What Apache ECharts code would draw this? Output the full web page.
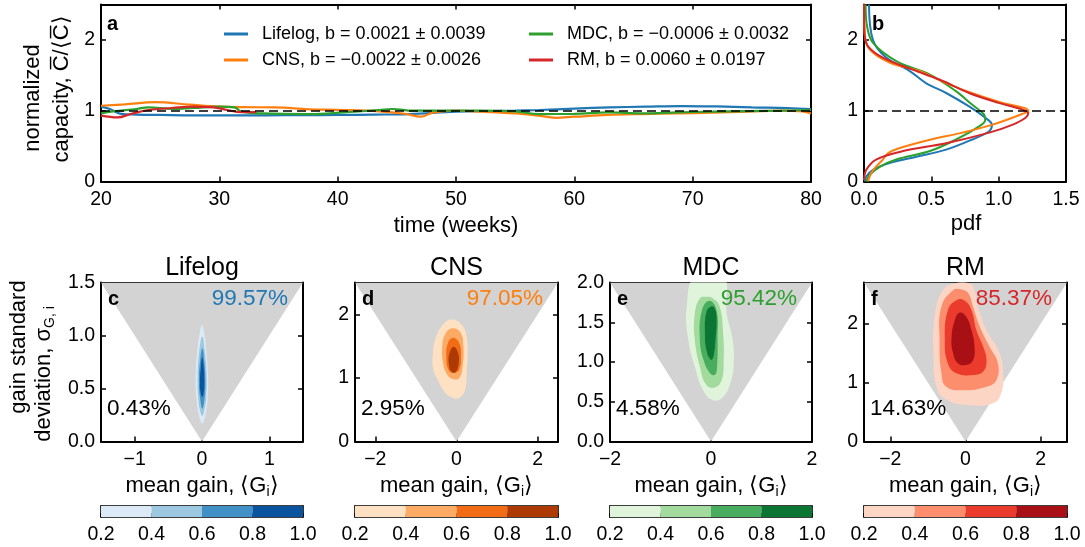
<!DOCTYPE html>
<html><head><meta charset="utf-8">
<script src="https://cdn.jsdelivr.net/npm/echarts@6/dist/echarts.min.js"></script>
<style>html,body{margin:0;padding:0;background:#fff}#c{width:1085px;height:547px}</style>
</head><body><div id="c"></div>
<script>
// ---------------- data ----------------
const seriesNames = ['Lifelog', 'CNS', 'MDC', 'RM'];
const legendNames = ['Lifelog, b = 0.0021 ± 0.0039', 'CNS, b = \u22120.0022 ± 0.0026', 'MDC, b = \u22120.0006 ± 0.0032', 'RM, b = 0.0060 ± 0.0197'];
const seriesColors = ['#1f77b4', '#ff7f0e', '#2ca02c', '#d62728'];

// panel a: normalized capacity vs time (weeks)
const lifelogWeeks = [20, 20.8, 21.7, 23, 25, 28, 31, 34, 37, 40, 43, 46, 50, 53, 55, 57, 60, 63, 66, 69, 72, 75, 78, 80];
const lifelogCap = [1.057, 1.02, 0.955, 0.945, 0.94, 0.935, 0.935, 0.935, 0.938, 0.94, 0.945, 0.953, 0.985, 0.995, 1.0, 1.01, 1.03, 1.047, 1.057, 1.066, 1.06, 1.047, 1.038, 1.024];
const cnsWeeks = [20, 22, 24.6, 27.5, 30, 32, 34.7, 37.6, 40.5, 43.5, 45.8, 47, 48.1, 50, 52.2, 55, 57, 58.4, 60, 62.8, 65.8, 68.7, 71.7, 74.6, 77.5, 79.3, 80];
const cnsCap = [1.07, 1.09, 1.12, 1.085, 1.057, 1.05, 1.047, 1.02, 1.01, 0.99, 0.953, 0.915, 0.976, 1.0, 0.986, 0.962, 0.93, 0.9, 0.915, 0.94, 0.953, 0.962, 0.972, 0.986, 1.0, 0.99, 0.96];
const mdcWeeks = [20, 21, 23, 24, 26, 27.8, 30, 31.3, 31.8, 33.6, 37.6, 40.5, 43.5, 44.6, 46.4, 49.3, 52, 55, 57, 60, 62.8, 65.8, 68.7, 71.7, 74.6, 77.5, 80];
const mdcCap = [0.96, 0.99, 1.024, 1.047, 1.024, 1.038, 1.057, 1.047, 0.99, 0.962, 0.953, 0.976, 1.01, 1.024, 1.0, 1.0, 1.0, 0.99, 0.953, 0.955, 0.976, 0.962, 0.976, 0.986, 0.995, 1.0, 1.01];
const rmWeeks = [20, 21.4, 22.5, 24, 26, 27.8, 29.5, 30.7, 31.8, 33.1];
const rmCap = [0.93, 0.905, 0.953, 1.01, 1.038, 1.057, 1.047, 1.01, 0.98, 0.98];

// panel b: pdf of normalized capacity
const lifelogPdfCap = [2.5, 2.0, 1.75, 1.56, 1.39, 1.25, 1.06, 0.9, 0.8, 0.71, 0.59, 0.45, 0.35, 0.26, 0.165, 0.07, 0];
const lifelogPdf = [0.037, 0.066, 0.165, 0.34, 0.46, 0.61, 0.78, 0.9, 0.95, 0.93, 0.8, 0.61, 0.39, 0.19, 0.066, 0.017, 0.005];
const cnsPdfCap = [2.5, 2.1, 1.87, 1.68, 1.56, 1.39, 1.25, 1.11, 1.04, 1.0, 0.95, 0.8, 0.69, 0.59, 0.47, 0.4, 0.31, 0.21, 0.12, 0];
const cnsPdf = [0, 0.005, 0.04, 0.19, 0.41, 0.61, 0.8, 1.03, 1.19, 1.22, 1.17, 0.95, 0.73, 0.49, 0.26, 0.18, 0.14, 0.09, 0.054, 0.03];
const mdcPdfCap = [2.5, 2.2, 1.96, 1.7, 1.51, 1.28, 1.09, 0.95, 0.87, 0.76, 0.59, 0.43, 0.31, 0.21, 0.09, 0];
const mdcPdf = [0.012, 0.022, 0.066, 0.24, 0.49, 0.68, 0.8, 0.89, 0.9, 0.84, 0.68, 0.49, 0.24, 0.12, 0.04, 0.017];
const rmPdfCap = [2.5, 2.06, 1.91, 1.75, 1.58, 1.44, 1.25, 1.11, 1.02, 0.97, 0.9, 0.8, 0.69, 0.54, 0.43, 0.31, 0.165, 0.02];
const rmPdf = [0, 0.005, 0.03, 0.14, 0.36, 0.56, 0.78, 1.0, 1.17, 1.22, 1.2, 1.1, 0.93, 0.61, 0.29, 0.09, 0.017, 0];

// panels c-f: allowed region (triangle) and density contours (levels 0.2, 0.4, 0.6, 0.8)
const triLifelog = [[-1.5, 1.5], [1.5, 1.5], [0, 0]];
const triCns = [[-2.5, 2.5], [2.5, 2.5], [0, 0]];
const triMdc = [[-2, 2], [2, 2], [0, 0]];
const triRm = [[-2.7, 2.7], [2.7, 2.7], [0, 0]];

const lifelogContours = [
  [[0,1.1],[0.035,1.02],[0.065,0.85],[0.09,0.62],[0.085,0.42],[0.055,0.26],[0.005,0.17],[-0.05,0.26],[-0.085,0.42],[-0.095,0.62],[-0.07,0.85],[-0.035,1.02]],
  [[0.005,0.99],[0.04,0.86],[0.07,0.62],[0.06,0.40],[0.03,0.28],[0.005,0.24],[-0.025,0.28],[-0.055,0.40],[-0.065,0.62],[-0.04,0.86]],
  [[0.005,0.88],[0.035,0.75],[0.05,0.58],[0.04,0.42],[0.005,0.31],[-0.03,0.42],[-0.045,0.58],[-0.03,0.75]],
  [[0.005,0.79],[0.028,0.68],[0.035,0.56],[0.025,0.46],[0.005,0.42],[-0.02,0.46],[-0.03,0.56],[-0.02,0.68]]
];
const cnsContours = [
  [[-0.125,1.92],[0.125,1.84],[0.25,1.65],[0.275,1.39],[0.25,1.08],[0.21,0.81],[0.04,0.68],[-0.17,0.71],[-0.33,0.81],[-0.46,0.97],[-0.57,1.13],[-0.58,1.39],[-0.5,1.65],[-0.33,1.84]],
  [[-0.1,1.78],[0.1,1.71],[0.17,1.5],[0.15,1.18],[0.07,1.0],[-0.08,0.98],[-0.23,1.05],[-0.33,1.23],[-0.35,1.5],[-0.27,1.7]],
  [[-0.085,1.63],[0.065,1.55],[0.11,1.34],[0.065,1.13],[-0.07,1.08],[-0.2,1.13],[-0.25,1.34],[-0.21,1.55]],
  [[-0.07,1.49],[0.04,1.39],[0.05,1.21],[-0.025,1.09],[-0.13,1.1],[-0.19,1.23],[-0.17,1.39]]
];
const mdcContours = [
  [[-0.3,2.1],[-0.48,1.7],[-0.45,1.28],[-0.32,0.94],[-0.16,0.65],[0.04,0.52],[0.24,0.56],[0.40,0.77],[0.45,0.98],[0.43,1.28],[0.31,1.61],[0.24,2.1]],
  [[-0.09,1.82],[0.04,1.80],[0.17,1.70],[0.24,1.36],[0.25,0.98],[0.21,0.77],[0.08,0.68],[-0.09,0.71],[-0.22,0.94],[-0.32,1.28],[-0.32,1.61],[-0.22,1.80]],
  [[-0.03,1.77],[0.11,1.65],[0.13,1.28],[0.12,0.94],[0.08,0.84],[-0.02,0.86],[-0.15,1.03],[-0.22,1.28],[-0.18,1.65]],
  [[0.01,1.70],[0.07,1.68],[0.11,1.57],[0.09,1.28],[0.04,1.05],[-0.01,1.03],[-0.09,1.15],[-0.12,1.36],[-0.09,1.63]]
];
const rmContours = [
  [[-0.24,2.69],[0.02,2.70],[0.2,2.63],[0.33,2.29],[0.56,1.89],[0.91,1.5],[1.0,1.16],[0.95,0.82],[0.73,0.65],[0.11,0.62],[-0.51,0.71],[-0.77,0.93],[-0.85,1.44],[-0.82,2.12],[-0.6,2.57]],
  [[-0.33,2.57],[-0.11,2.58],[0.07,2.52],[0.2,2.29],[0.38,1.95],[0.64,1.61],[0.86,1.33],[0.82,1.04],[0.56,0.93],[-0.07,0.87],[-0.51,0.93],[-0.64,1.16],[-0.69,1.72],[-0.64,2.29]],
  [[-0.24,2.40],[-0.02,2.39],[0.16,2.23],[0.29,1.89],[0.47,1.61],[0.56,1.38],[0.47,1.19],[0.2,1.13],[-0.24,1.16],[-0.47,1.33],[-0.55,1.72],[-0.47,2.23]],
  [[-0.15,2.19],[0.02,2.12],[0.16,1.89],[0.24,1.61],[0.2,1.38],[0.02,1.30],[-0.2,1.33],[-0.33,1.50],[-0.37,1.78],[-0.27,2.09]]
];
const levelColors = [
  ['#dce9f6', '#9dc9e0', '#4191c6', '#0a539e'],
  ['#fee0c3', '#fdaa65', '#f26b15', '#ad3903'],
  ['#e0f3db', '#a3da9d', '#48ad5e', '#0b7634'],
  ['#fdd5c4', '#fc8e6e', '#eb3b2c', '#a91016']
];
const colorbarLevels = [0.2, 0.4, 0.6, 0.8, 1.0];
const insidePct = ['99.57%', '97.05%', '95.42%', '85.37%'];
const outsidePct = ['0.43%', '2.95%', '4.58%', '14.63%'];

// ticks
const weekTicks = [20, 30, 40, 50, 60, 70, 80];
const capTicks = [0, 1, 2];
const pdfTicks = [0, 0.5, 1.0, 1.5];
const lowerX = [[-1, 0, 1], [-2, 0, 2], [-2, 0, 2], [-2, 0, 2]];
const lowerY = [[0, 0.5, 1.0, 1.5], [0, 1, 2], [0, 0.5, 1.0, 1.5, 2.0], [0, 1, 2]];
const lowerXRange = [[-1.5, 1.5], [-2.5, 2.5], [-2, 2], [-2.7, 2.7]];
const lowerYMax = [1.5, 2.5, 2.0, 2.7];
const lowerYfmt = [1, 0, 1, 0];

// ---------------- layout / options ----------------
const FONT = '"Liberation Sans", Arial, Helvetica, sans-serif';
const TICK_FS = 19.5;
const minus = v => (v < 0 ? '\u2212' + Math.abs(v) : String(v));
const fix = d => v => (v < 0 ? '\u2212' : '') + Math.abs(v).toFixed(d);

const grids = [
  { left: 101, top: 4.5, width: 710, height: 177 },
  { left: 864, top: 4.5, width: 202, height: 177 },
  { left: 101, top: 282.5, width: 202, height: 159 },
  { left: 355, top: 282.5, width: 203, height: 159 },
  { left: 610, top: 282.5, width: 202, height: 159 },
  { left: 864, top: 282.5, width: 203, height: 159 }
];
const cbTop = 506, cbH = 11;
for (let i = 0; i < 4; i++) grids.push({ left: grids[2 + i].left, top: cbTop, width: grids[2 + i].width, height: cbH });

const xAxis = [], yAxis = [];
const axisLine = { show: true, onZero: false, lineStyle: { color: '#000', width: 2 } };
function addPanelAxes(gi, xmin, xmax, xticks, xfmt, ymin, ymax, yticks, yfmt) {
  const tick = (vals) => ({ show: true, inside: true, length: 5, customValues: vals, lineStyle: { color: '#000', width: 1.5 } });
  const xi = xAxis.length;
  xAxis.push({ gridIndex: gi, type: 'value', min: xmin, max: xmax, position: 'bottom', axisLine, axisTick: tick(xticks),
    axisLabel: { customValues: xticks, formatter: xfmt, color: '#000', fontSize: TICK_FS, fontFamily: FONT, margin: 8 }, splitLine: { show: false } });
  xAxis.push({ gridIndex: gi, type: 'value', min: xmin, max: xmax, position: 'top', axisLine, axisTick: tick(xticks),
    axisLabel: { show: false }, splitLine: { show: false } });
  const yi = yAxis.length;
  yAxis.push({ gridIndex: gi, type: 'value', min: ymin, max: ymax, position: 'left', axisLine, axisTick: tick(yticks),
    axisLabel: { customValues: yticks, formatter: yfmt, color: '#000', fontSize: TICK_FS, fontFamily: FONT, margin: 6 }, splitLine: { show: false } });
  yAxis.push({ gridIndex: gi, type: 'value', min: ymin, max: ymax, position: 'right', axisLine, axisTick: tick(yticks),
    axisLabel: { show: false }, splitLine: { show: false } });
  return [xi, yi];
}

const series = [];
// panel a
const [ax, ay] = addPanelAxes(0, 20, 80, weekTicks, minus, 0, 2.5, capTicks, minus);
const timeData = [[lifelogWeeks, lifelogCap], [cnsWeeks, cnsCap], [mdcWeeks, mdcCap], [rmWeeks, rmCap]];
const dashLine = { symbol: 'none', silent: true, label: { show: false }, lineStyle: { color: '#000', type: [9, 5], width: 1.6 }, data: [{ yAxis: 1 }] };
timeData.forEach((d, i) => {
  const s = { type: 'line', name: legendNames[i], xAxisIndex: ax, yAxisIndex: ay, data: d[0].map((w, k) => [w, d[1][k]]),
    showSymbol: false, symbol: 'none', smooth: 0.4, lineStyle: { color: seriesColors[i], width: 2.2 }, itemStyle: { color: seriesColors[i] }, z: 2 + i * 0.1 };
  if (i === 3) s.markLine = dashLine;
  series.push(s);
});
// panel b
const [bx, by] = addPanelAxes(1, 0, 1.5, pdfTicks, fix(1), 0, 2.5, capTicks, minus);
const pdfData = [[lifelogPdf, lifelogPdfCap], [cnsPdf, cnsPdfCap], [mdcPdf, mdcPdfCap], [rmPdf, rmPdfCap]];
[0, 2, 1, 3].forEach((i, k) => {
  const d = pdfData[i];
  const s = { type: 'line', name: seriesNames[i] + ' pdf', xAxisIndex: bx, yAxisIndex: by, data: d[0].map((p, j) => [p, d[1][j]]),
    showSymbol: false, symbol: 'none', smooth: 0.35, lineStyle: { color: seriesColors[i], width: 2 }, z: 2 + k * 0.1 };
  if (k === 3) s.markLine = dashLine;
  series.push(s);
});

function polygonSeries(xi, yi, polys, fills, z, smooth) {
  return {
    type: 'custom', xAxisIndex: xi, yAxisIndex: yi, z: z, silent: true,
    data: polys.map((p, i) => [p[0][0], p[0][1], i]),
    encode: { x: 0, y: 1 },
    renderItem: (params, api) => {
      const poly = polys[params.dataIndex];
      const cs = params.coordSys;
      return { type: 'group', clipPath: { type: 'rect', shape: { x: cs.x, y: cs.y, width: cs.width, height: cs.height } },
        children: [{ type: 'polygon', shape: { points: poly.map(pt => api.coord(pt)), smooth: smooth }, style: { fill: fills[params.dataIndex], stroke: null } }] };
    }
  };
}
const triangles = [triLifelog, triCns, triMdc, triRm];
const contours = [lifelogContours, cnsContours, mdcContours, rmContours];
for (let i = 0; i < 4; i++) {
  const yf = lowerYfmt[i] ? fix(1) : minus;
  const [xi, yi] = addPanelAxes(2 + i, lowerXRange[i][0], lowerXRange[i][1], lowerX[i], minus, 0, lowerYMax[i], lowerY[i], yf);
  series.push(polygonSeries(xi, yi, [triangles[i]], ['#d3d3d3'], 1, 0));
  series.push(polygonSeries(xi, yi, contours[i], levelColors[i], 2, 0.45));
}
// colorbars
for (let i = 0; i < 4; i++) {
  const xi = xAxis.length;
  xAxis.push({ gridIndex: 6 + i, type: 'value', min: 0.2, max: 1.0, position: 'bottom', axisLine: { show: true, onZero: false, lineStyle: { color: '#000', width: 1.6 } },
    axisTick: { show: true, inside: true, length: 4, customValues: colorbarLevels, lineStyle: { color: '#000', width: 1.5 } },
    axisLabel: { customValues: colorbarLevels, formatter: v => v.toFixed(1), color: '#000', fontSize: TICK_FS, fontFamily: FONT, margin: 8 }, splitLine: { show: false } });
  xAxis.push({ gridIndex: 6 + i, type: 'value', min: 0.2, max: 1.0, position: 'top', axisLine: { show: true, onZero: false, lineStyle: { color: '#000', width: 1.6 } },
    axisTick: { show: false }, axisLabel: { show: false }, splitLine: { show: false } });
  const yi = yAxis.length;
  yAxis.push({ gridIndex: 6 + i, type: 'value', min: 0, max: 1, position: 'left', axisLine: { show: true, lineStyle: { color: '#000', width: 1.6 } }, axisTick: { show: false }, axisLabel: { show: false }, splitLine: { show: false } });
  yAxis.push({ gridIndex: 6 + i, type: 'value', min: 0, max: 1, position: 'right', axisLine: { show: true, lineStyle: { color: '#000', width: 1.6 } }, axisTick: { show: false }, axisLabel: { show: false }, splitLine: { show: false } });
  const fills = levelColors[i];
  series.push({
    type: 'custom', xAxisIndex: xi, yAxisIndex: yi, silent: true, z: 1,
    data: colorbarLevels.slice(0, 4).map((v, k) => [v, colorbarLevels[k + 1], k]),
    encode: { x: [0, 1] },
    renderItem: (params, api) => {
      const p0 = api.coord([api.value(0), 0]);
      const p1 = api.coord([api.value(1), 1]);
      return { type: 'rect', shape: { x: p0[0], y: p1[1], width: p1[0] - p0[0], height: p0[1] - p1[1] }, style: { fill: fills[api.value(2)] } };
    }
  });
}

// ---------------- texts ----------------
const T = (x, y, text, opt = {}) => ({ type: 'text', x, y, z: 100, rotation: opt.rot || 0,
  style: Object.assign({ text, fill: opt.color || '#000', font: (opt.weight || 'normal') + ' ' + (opt.size || 22) + 'px ' + FONT,
    textAlign: opt.align || 'center', textVerticalAlign: 'middle' }, opt.rich ? { rich: opt.rich } : {}) });
const subRich = { m: { fontSize: 22, fontFamily: FONT, fill: '#000' }, s: { fontSize: 14, fontFamily: FONT, fill: '#000', verticalAlign: 'bottom', padding: [13, 0, 0, 0] } };
const graphics = [
  T(107, 24, 'a', { weight: 'bold', size: 20, align: 'left' }),
  T(872, 24, 'b', { weight: 'bold', size: 20, align: 'left' }),
  T(456, 226, 'time (weeks)', { size: 22 }),
  T(966, 224, 'pdf', { size: 22 }),
  T(33, 98, 'normalized', { rot: Math.PI / 2, size: 22 }),
  T(62, 89, 'capacity, C\u0305/\u27e8C\u0305\u27e9', { rot: Math.PI / 2, size: 22 }),
  T(19, 347, 'gain standard', { rot: Math.PI / 2, size: 22 }),
  T(44, 374, '{m|deviation, σ}{s|G, i}', { rot: Math.PI / 2, size: 22, rich: subRich })
];
const titles = ['Lifelog', 'CNS', 'MDC', 'RM'];
const letters = ['c', 'd', 'e', 'f'];
for (let i = 0; i < 4; i++) {
  const g = grids[2 + i];
  const cx = g.left + g.width / 2;
  graphics.push(T(cx, 268, titles[i], { size: 25 }));
  graphics.push(T(g.left + 7, 299, letters[i], { weight: 'bold', size: 20, align: 'left' }));
  graphics.push(T(g.left + g.width - 15, 299, insidePct[i], { size: 22.5, align: 'right', color: seriesColors[i] }));
  graphics.push(T(g.left + 6, 409, outsidePct[i], { size: 22.5, align: 'left' }));
  graphics.push(T(cx, 486, '{m|mean gain, \u27e8G}{s|i}{m|\u27e9}', { size: 22, rich: subRich }));
}

const legendCommon = { orient: 'vertical', itemWidth: 24, itemHeight: 3, itemGap: 8, icon: 'rect', selectedMode: false,
  textStyle: { fontSize: 18, fontFamily: FONT, color: '#000', padding: [0, 0, 0, 9] } };
const option = {
  animation: false,
  backgroundColor: '#fff',
  grid: grids,
  xAxis, yAxis, series,
  legend: [
    Object.assign({ data: legendNames.slice(0, 2), left: 219, top: 20 }, legendCommon),
    Object.assign({ data: legendNames.slice(2, 4), left: 524, top: 20 }, legendCommon)
  ],
  graphic: graphics
};
const chart = echarts.init(document.getElementById('c'), null, { renderer: 'canvas' });
chart.setOption(option);
</script>
</body></html>
